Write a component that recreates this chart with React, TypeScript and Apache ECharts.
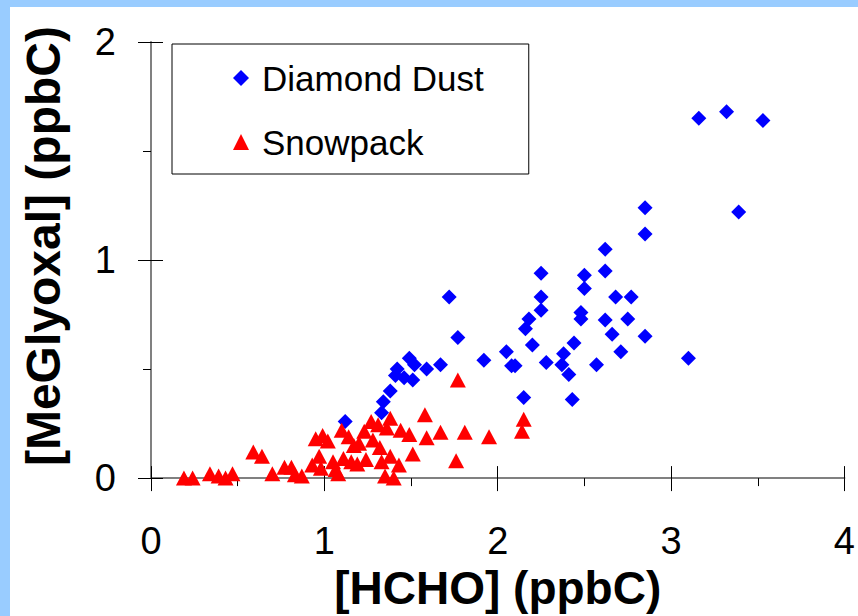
import React, { useEffect, useRef } from "react";
import * as echarts from "echarts";

const FONT = '"Liberation Sans", Arial, Helvetica, sans-serif';

const seriesNames = ["Diamond Dust", "Snowpack"];
const xTitle = "[HCHO] (ppbC)";
const yTitle = "[MeGlyoxal] (ppbC)";

// [HCHO, MeGlyoxal] pairs
const diamondDust: number[][] = [
  [1.12, 0.26], [1.33, 0.3], [1.34, 0.35], [1.38, 0.4], [1.41, 0.47],
  [1.42, 0.5], [1.46, 0.46], [1.49, 0.55], [1.51, 0.45], [1.52, 0.52],
  [1.59, 0.5], [1.67, 0.52], [1.72, 0.83], [1.77, 0.645], [1.92, 0.54],
  [2.05, 0.58], [2.08, 0.515], [2.1, 0.515], [2.15, 0.37], [2.16, 0.685],
  [2.18, 0.73], [2.2, 0.61], [2.25, 0.77], [2.25, 0.83], [2.25, 0.94],
  [2.28, 0.53], [2.37, 0.52], [2.38, 0.57], [2.41, 0.475], [2.43, 0.36],
  [2.44, 0.62], [2.48, 0.76], [2.48, 0.73], [2.5, 0.87], [2.5, 0.93],
  [2.57, 0.52], [2.62, 0.725], [2.62, 0.95], [2.62, 1.05], [2.66, 0.66],
  [2.68, 0.83], [2.71, 0.58], [2.75, 0.73], [2.77, 0.83], [2.85, 0.65],
  [2.85, 1.12], [2.85, 1.24], [3.1, 0.55], [3.16, 1.65], [3.32, 1.68],
  [3.39, 1.22], [3.53, 1.64],
];

const snowpack: number[][] = [
  [0.19, 0.0], [0.24, 0.0], [0.34, 0.02], [0.39, 0.01], [0.43, 0.0],
  [0.47, 0.02], [0.59, 0.12], [0.64, 0.1], [0.7, 0.02], [0.77, 0.05],
  [0.81, 0.05], [0.83, 0.015], [0.87, 0.01], [0.93, 0.06], [0.95, 0.18],
  [0.97, 0.1], [0.98, 0.045], [0.99, 0.195], [1.02, 0.17], [1.05, 0.075],
  [1.065, 0.04], [1.08, 0.02], [1.1, 0.22], [1.11, 0.09], [1.14, 0.19],
  [1.155, 0.075], [1.17, 0.15], [1.19, 0.065], [1.2, 0.16], [1.23, 0.215],
  [1.24, 0.085], [1.27, 0.26], [1.28, 0.175], [1.31, 0.245], [1.32, 0.14],
  [1.33, 0.075], [1.35, 0.01], [1.36, 0.23], [1.38, 0.275], [1.38, 0.1],
  [1.4, 0.0], [1.43, 0.06], [1.44, 0.22], [1.49, 0.2], [1.51, 0.11],
  [1.58, 0.29], [1.59, 0.185], [1.67, 0.21], [1.76, 0.08], [1.77, 0.45],
  [1.81, 0.21], [1.95, 0.19], [2.14, 0.215], [2.15, 0.27],
];

const xMin = 0, xMax = 4, xStep = 1;
const yMin = 0, yMax = 2, yStep = 1;

export default function App() {
  const ref = useRef<HTMLDivElement>(null);

  useEffect(() => {
    document.body.style.margin = "0";
    if (!ref.current) return;
    const chart = echarts.init(ref.current, undefined, { renderer: "svg" });
    const tickStyle = { color: "#000", width: 1 };
    const option = {
      animation: false,
      backgroundColor: "#ffffff",
      textStyle: { fontFamily: FONT },
      grid: { left: 141, right: 12, top: 35, bottom: 136 },
      legend: {
        orient: "vertical",
        left: 162,
        top: 37,
        padding: [14, 45, 12, 61],
        itemGap: 24,
        itemWidth: 16,
        itemHeight: 16,
        borderColor: "#000",
        borderWidth: 1,
        backgroundColor: "#fff",
        data: seriesNames,
        textStyle: {
          fontSize: 35,
          color: "#000",
          lineHeight: 40,
          fontFamily: FONT,
          padding: [0, 0, 0, 8],
        },
      },
      xAxis: [
        {
          type: "value",
          min: xMin,
          max: xMax,
          interval: xStep,
          position: "bottom",
          axisLine: { show: true, onZero: false, lineStyle: { color: "#808080", width: 2 } },
          axisTick: { show: true, inside: false, length: 13, lineStyle: tickStyle },
          minorTick: { show: true, splitNumber: 2, length: 8, lineStyle: tickStyle },
          splitLine: { show: false },
          axisLabel: { fontSize: 38, color: "#000", margin: 44, fontFamily: FONT },
          name: xTitle,
          nameLocation: "middle",
          nameGap: 86,
          nameTextStyle: { fontSize: 46, fontWeight: "bold", color: "#000", fontFamily: FONT },
        },
        {
          type: "value",
          min: xMin,
          max: xMax,
          interval: xStep,
          position: "bottom",
          axisLine: { show: false, onZero: false },
          axisTick: { show: true, inside: true, length: 12, lineStyle: tickStyle },
          axisLabel: { show: false },
          splitLine: { show: false },
        },
      ],
      yAxis: [
        {
          type: "value",
          min: yMin,
          max: yMax,
          interval: yStep,
          position: "left",
          axisLine: { show: true, onZero: false, lineStyle: { color: "#808080", width: 2 } },
          axisTick: { show: true, inside: false, length: 13, lineStyle: tickStyle },
          minorTick: { show: true, splitNumber: 2, length: 8, lineStyle: tickStyle },
          splitLine: { show: false },
          axisLabel: { fontSize: 38, color: "#000", margin: 35, fontFamily: FONT },
          name: yTitle,
          nameLocation: "middle",
          nameGap: 84,
          nameTextStyle: {
            fontSize: 48,
            fontWeight: "bold",
            color: "#000",
            fontFamily: FONT,
            padding: [0, 0, 0, 28],
          },
        },
        {
          type: "value",
          min: yMin,
          max: yMax,
          interval: yStep,
          position: "left",
          axisLine: { show: false, onZero: false },
          axisTick: { show: true, inside: true, length: 12, lineStyle: tickStyle },
          axisLabel: { show: false },
          splitLine: { show: false },
        },
      ],
      series: [
        {
          name: seriesNames[0],
          type: "scatter",
          xAxisIndex: 0,
          yAxisIndex: 0,
          symbol: "diamond",
          symbolSize: 15,
          clip: false,
          itemStyle: { color: "#0000FF", opacity: 1 },
          data: diamondDust,
        },
        {
          name: seriesNames[1],
          type: "scatter",
          xAxisIndex: 0,
          yAxisIndex: 0,
          symbol: "triangle",
          symbolSize: [16, 15],
          clip: false,
          itemStyle: { color: "#FF0000", opacity: 1 },
          data: snowpack,
        },
      ],
    };
    chart.setOption(option);
    return () => chart.dispose();
  }, []);

  return (
    <div style={{ position: "relative", width: 858, height: 616, background: "#99CCFF", overflow: "hidden" }}>
      <div
        ref={ref}
        style={{ position: "absolute", left: 10, top: 7, width: 848, height: 609, background: "#fff" }}
      />
    </div>
  );
}
